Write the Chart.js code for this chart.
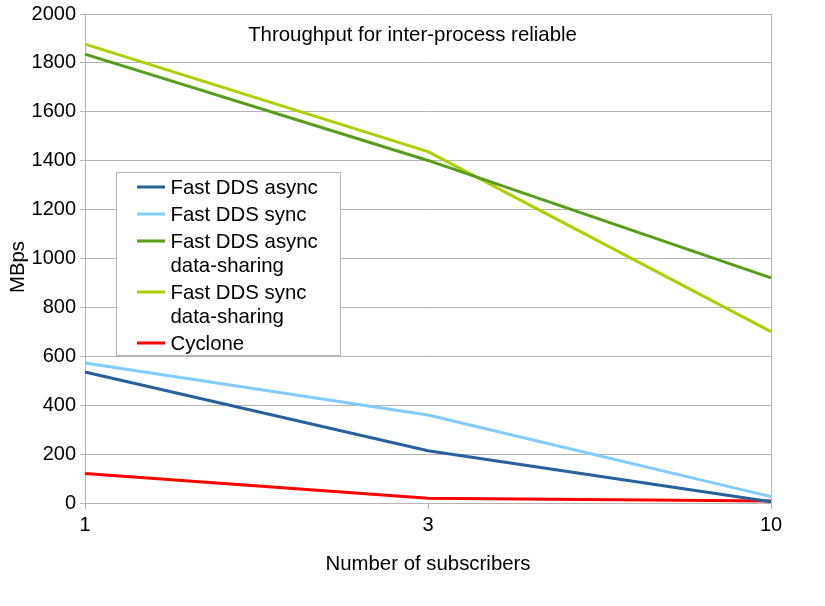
<!DOCTYPE html>
<html>
<head>
<meta charset="utf-8">
<script src="https://cdn.jsdelivr.net/npm/chart.js@4/dist/chart.umd.min.js"></script>
<style>
html,body{margin:0;padding:0;background:#fff;}
#wrap{width:825px;height:606px;position:relative;}
</style>
</head>
<body>
<div id="wrap"><canvas id="c" width="825" height="606"></canvas></div>
<script>
const categories = ['1', '3', '10'];
const seriesNames = [
  ['Fast DDS async'],
  ['Fast DDS sync'],
  ['Fast DDS async', 'data-sharing'],
  ['Fast DDS sync', 'data-sharing'],
  ['Cyclone']
];
const fastAsync = [536, 214, 5];
const fastSync = [573, 360, 26];
const fastAsyncDS = [1836, 1401, 921];
const fastSyncDS = [1877, 1437, 701];
const cyclone = [121, 19, 8];
const seriesColors = ['#2a6099', '#83caff', '#579d1c', '#aecf00', '#ff0000'];
const yTicks = [0, 200, 400, 600, 800, 1000, 1200, 1400, 1600, 1800, 2000];
const chartTitle = 'Throughput for inter-process reliable';
const xTitle = 'Number of subscribers';
const yTitle = 'MBps';

const FONT = '"Liberation Sans", Arial, sans-serif';
const FS = 20;
const seriesValues = [fastAsync, fastSync, fastAsyncDS, fastSyncDS, cyclone];

const datasets = seriesValues.map((vals, i) => ({
  label: seriesNames[i].join(' '),
  data: vals,
  borderColor: seriesColors[i],
  backgroundColor: seriesColors[i],
  borderWidth: 3,
  pointRadius: 0,
  tension: 0,
  borderJoinStyle: 'round',
  fill: false
}));

const overlay = {
  id: 'overlay',
  afterDraw(chart) {
    const ctx = chart.ctx;
    ctx.save();
    ctx.fillStyle = '#000';
    ctx.font = '20.4px ' + FONT;
    ctx.textAlign = 'center';
    ctx.textBaseline = 'middle';
    // title
    ctx.fillText(chartTitle, 412.5, 35);
    // y axis title
    ctx.save();
    ctx.translate(18, 267);
    ctx.rotate(-Math.PI / 2);
    ctx.fillText(yTitle, 0, 0);
    ctx.restore();
    // legend box
    const bx = 116, by = 172, bw = 224, bh = 183;
    ctx.fillStyle = '#fff';
    ctx.fillRect(bx, by, bw, bh);
    ctx.strokeStyle = '#b3b3b3';
    ctx.lineWidth = 1;
    ctx.strokeRect(bx + 0.5, by + 0.5, bw, bh);
    let y = 187;
    const lineH = 24, gap = 3;
    ctx.textAlign = 'left';
    seriesNames.forEach((lines, i) => {
      ctx.strokeStyle = seriesColors[i];
      ctx.lineWidth = 3;
      ctx.beginPath();
      ctx.moveTo(137, y);
      ctx.lineTo(165, y);
      ctx.stroke();
      ctx.fillStyle = '#000';
      lines.forEach((t, k) => {
        ctx.fillText(t, 170.5, y + k * lineH + 1);
      });
      y += lines.length * lineH + gap;
    });
    ctx.restore();
  }
};

new Chart(document.getElementById('c'), {
  type: 'line',
  data: { labels: categories, datasets },
  options: {
    responsive: false,
    animation: false,
    devicePixelRatio: 1,
    layout: { padding: { left: 0, right: 54, top: 14, bottom: 0 } },
    plugins: {
      legend: { display: false },
      title: { display: false },
      tooltip: { enabled: false }
    },
    scales: {
      x: {
        type: 'category',
        offset: false,
        afterFit(scale) { scale.height = 103; },
        grid: {
          color: (c) => (c.index === categories.length - 1 ? '#b3b3b3' : 'rgba(0,0,0,0)'),
          tickColor: '#b3b3b3',
          tickLength: 6,
          lineWidth: 1,
          drawOnChartArea: true
        },
        border: { display: true, color: '#b3b3b3' },
        ticks: {
          color: '#000',
          font: { family: FONT, size: FS },
          padding: 4,
          maxRotation: 0,
          autoSkip: false
        },
        title: {
          display: true,
          text: xTitle,
          color: '#000',
          font: { family: FONT, size: 20.4 },
          padding: { top: 0, bottom: 29 }
        }
      },
      y: {
        min: 0,
        max: 2000,
        afterFit(scale) { scale.width = 85; },
        afterBuildTicks(scale) { scale.ticks = yTicks.map(v => ({ value: v })); },
        grid: {
          color: '#b3b3b3',
          tickColor: '#b3b3b3',
          tickLength: 5,
          lineWidth: 1
        },
        border: { display: true, color: '#b3b3b3' },
        ticks: {
          color: '#000',
          font: { family: FONT, size: FS, lineHeight: 1 },
          padding: 4,
          callback: (v) => String(v)
        },
        title: { display: false }
      }
    }
  },
  plugins: [overlay]
});
</script>
</body>
</html>
